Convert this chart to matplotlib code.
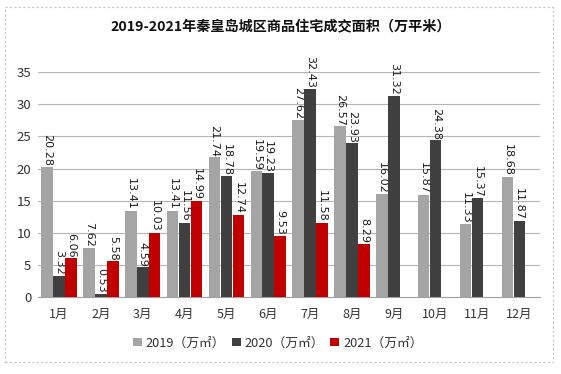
import numpy as np
import matplotlib
matplotlib.use("Agg")
import matplotlib.pyplot as plt
from matplotlib.patches import Rectangle

plt.rcParams['font.family'] = ['Noto Sans CJK SC', 'DejaVu Sans']

months = [f"{i}月" for i in range(1, 13)]
area_2019 = [20.28, 7.62, 13.41, 13.41, 21.74, 19.59, 27.62, 26.57, 16.02, 15.87, 11.33, 18.68]
area_2020 = [3.32, 0.53, 4.59, 11.56, 18.78, 19.23, 32.43, 23.93, 31.32, 24.38, 15.37, 11.87]
area_2021 = [6.06, 5.58, 10.03, 14.99, 12.74, 9.53, 11.58, 8.29, None, None, None, None]

series = [
    ("2019（万㎡）", area_2019, "#A5A5A5"),
    ("2020（万㎡）", area_2020, "#404040"),
    ("2021（万㎡）", area_2021, "#C00000"),
]

fig = plt.figure(figsize=(5.61, 3.74), dpi=100)
ax = fig.add_axes([0.068, 0.206, 0.895, 0.601])

x = np.arange(len(months))
width = 0.285
for i, (label, vals, color) in enumerate(series):
    vals = np.array([np.nan if v is None else v for v in vals], dtype=float)
    pos = x + (i - 1) * width
    ax.bar(pos, vals, width=width * 0.97, color=color, label=label, zorder=3)
    for px, v in zip(pos, vals):
        if np.isnan(v):
            continue
        ax.annotate(f"{v:.2f}", (px, v), xytext=(0, 0.5), textcoords="offset points",
                    rotation=270, ha="center", va="bottom", fontsize=8,
                    color="#1a1a1a", family=['DejaVu Sans'])

ax.set_xlim(-0.5, 11.5)
ax.set_ylim(0, 35)
ax.set_yticks(range(0, 36, 5))
ax.set_xticks(x)
ax.set_xticklabels(months)
ax.tick_params(axis="both", length=0, colors="#333333")
ax.tick_params(axis="y", pad=5, labelsize=9.5)
ax.tick_params(axis="x", pad=8, labelsize=9)
ax.grid(axis="y", color="#B5B5B5", linewidth=0.8, zorder=0)
for s in ["top", "right", "left"]:
    ax.spines[s].set_visible(False)
ax.spines["bottom"].set_color("#A0A0A0")

fig.text(0.5, 0.926, "2019-2021年秦皇岛城区商品住宅成交面积（万平米）", ha="center",
         va="center", fontsize=10.2, fontweight="bold", color="#111111")

fig.legend(loc="center", bbox_to_anchor=(0.495, 0.083), ncol=3, frameon=False,
           fontsize=9.2, handlelength=0.7, handleheight=0.7, handletextpad=0.3,
           columnspacing=0.5, labelcolor="#333333")

fig.patches.append(Rectangle((5 / 561, 1 - 362 / 374), 548 / 561, 355 / 374,
                             transform=fig.transFigure, fill=False, edgecolor="#C8C8C8",
                             linestyle=(0, (2, 2)), linewidth=0.8))

fig.savefig("out.png", dpi=100)
